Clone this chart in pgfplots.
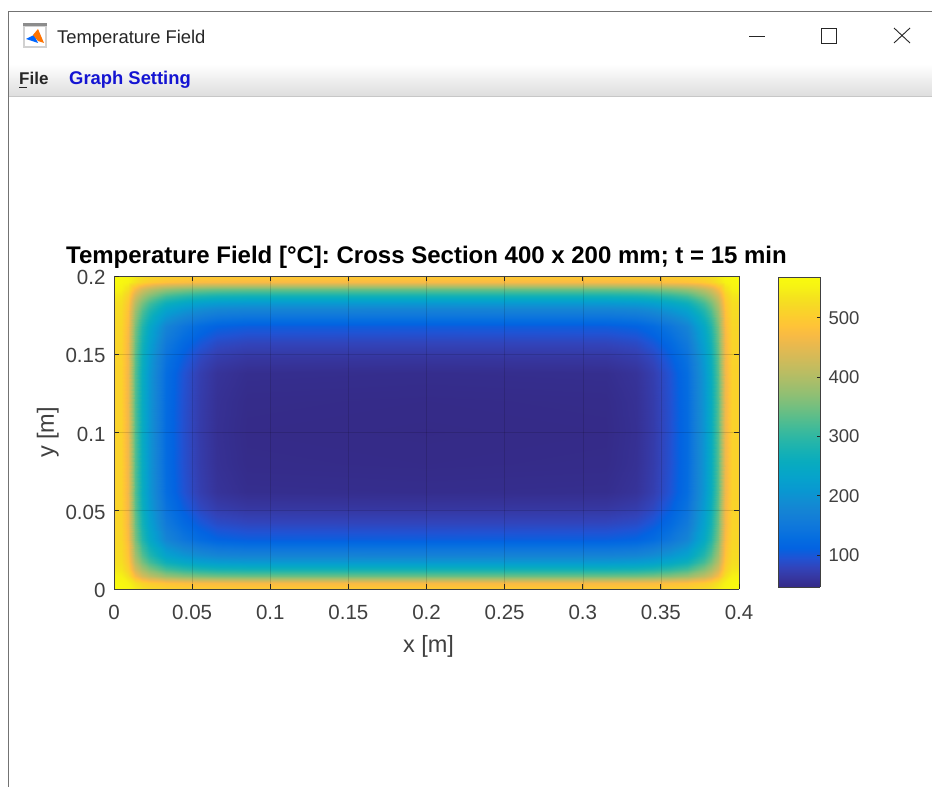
\documentclass[border=0pt]{standalone}
\usepackage{pgfplots}
\usepackage{pgfplotstable}
\pgfplotsset{compat=1.18}
\usepackage{fontspec}
\setmainfont{Liberation Sans}
\definecolor{axgray}{HTML}{404040}
\definecolor{menublue}{HTML}{1414D2}
\pgfplotsset{colormap={parula}{
rgb=(.2081,.1663,.5292) rgb=(.2123,.2138,.6270) rgb=(.1959,.2645,.7279) rgb=(.1253,.3242,.8303)
rgb=(.0117,.3875,.8820) rgb=(.0165,.4266,.8786) rgb=(.0498,.4586,.8641) rgb=(.0723,.4887,.8467)
rgb=(.0793,.5200,.8312) rgb=(.0641,.5570,.8240) rgb=(.0343,.5966,.8199) rgb=(.0239,.6287,.8038)
rgb=(.0228,.6535,.7768) rgb=(.0384,.6743,.7436) rgb=(.0843,.6928,.7062) rgb=(.1453,.7098,.6646)
rgb=(.2178,.7250,.6193) rgb=(.3022,.7376,.5712) rgb=(.3953,.7459,.5244) rgb=(.4871,.7491,.4840)
rgb=(.5709,.7485,.4494) rgb=(.6473,.7456,.4188) rgb=(.7184,.7411,.3905) rgb=(.7858,.7356,.3633)
rgb=(.8507,.7299,.3360) rgb=(.9139,.7258,.3063) rgb=(.9739,.7314,.2666) rgb=(.9990,.7653,.2164)
rgb=(.9880,.8066,.1794) rgb=(.9697,.8481,.1475) rgb=(.9589,.8949,.1132) rgb=(.9661,.9514,.0755)
rgb=(.9763,.9831,.0538)}}
\pgfplotstableread{
dx dy T
0 0 569
0.0045 0 566
0.009 0 560
0.0135 0 545
0.018 0 532
0.0225 0 522
0.033 0 510
0.044 0 506
0.055 0 503
0.066 0 501
0.085 0 500
0.2 0 500
0 0.004 566
0.0045 0.004 562
0.009 0.004 553
0.0135 0.004 532
0.018 0.004 512
0.0225 0.004 500
0.033 0.004 485
0.044 0.004 479
0.055 0.004 474
0.066 0.004 472
0.085 0.004 470
0.2 0.004 470
0 0.0085 555
0.0045 0.0085 552
0.009 0.0085 530
0.0135 0.0085 472
0.018 0.0085 435
0.0225 0.0085 413
0.033 0.0085 379
0.044 0.0085 365
0.055 0.0085 355
0.066 0.0085 349
0.085 0.0085 346
0.2 0.0085 345
0 0.013 540
0.0045 0.013 537
0.009 0.013 507
0.0135 0.013 432
0.018 0.013 390
0.0225 0.013 361
0.033 0.013 315
0.044 0.013 296
0.055 0.013 282
0.066 0.013 274
0.085 0.013 270
0.2 0.013 270
0 0.017 528
0.0045 0.017 528
0.009 0.017 494
0.0135 0.017 405
0.018 0.017 354
0.0225 0.017 319
0.033 0.017 264
0.044 0.017 242
0.055 0.017 225
0.066 0.017 216
0.085 0.017 211
0.2 0.017 210
0 0.0215 524
0.0045 0.0215 524
0.009 0.0215 486
0.0135 0.0215 387
0.018 0.0215 330
0.0225 0.0215 291
0.033 0.0215 230
0.044 0.0215 205
0.055 0.0215 187
0.066 0.0215 176
0.085 0.0215 171
0.2 0.0215 170
0 0.032 517
0.0045 0.032 517
0.009 0.032 473
0.0135 0.032 357
0.018 0.032 291
0.0225 0.032 246
0.033 0.032 175
0.044 0.032 146
0.055 0.032 125
0.066 0.032 112
0.085 0.032 106
0.2 0.032 105
0 0.042 514
0.0045 0.042 514
0.009 0.042 467
0.0135 0.042 346
0.018 0.042 276
0.0225 0.042 229
0.033 0.042 154
0.044 0.042 123
0.055 0.042 101
0.066 0.042 87
0.085 0.042 81
0.2 0.042 80
0 0.052 512
0.0045 0.052 512
0.009 0.052 464
0.0135 0.052 337
0.018 0.052 265
0.0225 0.052 216
0.033 0.052 139
0.044 0.052 107
0.055 0.052 83
0.066 0.052 70
0.085 0.052 63
0.2 0.052 62
0 0.062 510
0.0045 0.062 510
0.009 0.062 461
0.0135 0.062 332
0.018 0.062 258
0.0225 0.062 208
0.033 0.062 129
0.044 0.062 96
0.055 0.062 72
0.066 0.062 58
0.085 0.062 51
0.2 0.062 50
0 0.08 510
0.0045 0.08 510
0.009 0.08 460
0.0135 0.08 330
0.018 0.08 256
0.0225 0.08 206
0.033 0.08 126
0.044 0.08 93
0.055 0.08 69
0.066 0.08 55
0.085 0.08 48
0.2 0.08 47
0 0.1 510
0.0045 0.1 510
0.009 0.1 460
0.0135 0.1 330
0.018 0.1 255
0.0225 0.1 205
0.033 0.1 125
0.044 0.1 92
0.055 0.1 68
0.066 0.1 54
0.085 0.1 47
0.2 0.1 46
}\quadrant
\begin{document}
\begin{tikzpicture}[x=1pt,y=1pt]
\useasboundingbox (0,0) rectangle (932,787);
\fill[white] (0,0) rectangle (932,787);
\shade[top color=white,bottom color=black!13] (9,723) rectangle (932,691);
\draw[black!22,line width=.8pt] (9,691) -- (932,691);
\draw[black!55,line width=1pt] (8.5,0) -- (8.5,775) -- (932,775);
% icon
\fill[black!18] (23,739) rectangle (47,764);
\fill[black!45] (23,761) rectangle (47,764);
\fill[white] (25,741) rectangle (45,760);
\fill[blue!60!cyan] (26,748) -- (34,752) -- (38,744) -- cycle;
\fill[orange!90!red] (33,752) -- (38,758) -- (44,744) -- (38,746) -- cycle;
\node[anchor=base west,inner sep=0,font=\fontsize{18.4}{20}\selectfont,text=black!85] at (57,743) {Temperature Field};
\node[anchor=base west,inner sep=0,font=\fontsize{17}{18}\bfseries\selectfont,text=black!85] at (19,702) {File};
\draw[black!85,line width=.8pt] (19,699.5) -- (27,699.5);
\node[anchor=base west,inner sep=0,font=\fontsize{18.4}{20}\bfseries\selectfont,text=menublue] at (69,702) {Graph Setting};
\draw[black!85,line width=.9pt] (749,751) -- (765,751);
\draw[black!85,line width=.9pt] (821,744) rectangle (836,759);
\draw[black!85,line width=.9pt] (894,744) -- (910,759) (894,759) -- (910,744);
\begin{axis}[
  at={(114pt,198pt)}, anchor=south west,
  width=625pt, height=313pt, scale only axis,
  view={0}{90},
  xmin=0, xmax=0.4, ymin=0, ymax=0.2,
  xtick={0,0.05,...,0.4}, ytick={0,0.05,...,0.2},
  xticklabels={0,0.05,0.1,0.15,0.2,0.25,0.3,0.35,0.4},
  yticklabels={0,0.05,0.1,0.15,0.2},
  grid=major,
  grid style={black,opacity=.13,line width=.5pt},
  axis on top,
  axis line style={black!75,line width=.8pt},
  tick style={black!85,line width=.8pt},
  major tick length=5pt,
  tick align=inside,
  tick label style={font=\fontsize{20.5}{22}\selectfont,text=axgray},
  /pgf/number format/assume math mode=true,
  xticklabel style={yshift=-13pt},
  yticklabel style={xshift=-5pt,yshift=-1.5pt},
  xlabel={x [m]}, ylabel={y [m]},
  label style={font=\fontsize{23.5}{25}\selectfont,text=axgray},
  xlabel style={yshift=-9pt,xshift=2pt},
  ylabel style={yshift=0pt},
  title={Temperature Field [°C]: Cross Section 400 x 200 mm; t = 15 min},
  title style={font=\fontsize{24}{26}\bfseries\selectfont,text=black,yshift=-2pt},
  point meta min=46, point meta max=569,
  colormap name=parula,
]
\addplot3[surf,shader=interp,mesh/cols=12] table[x=dx,y=dy,z=T] {\quadrant};
\addplot3[surf,shader=interp,mesh/cols=12] table[x expr={0.4-\thisrow{dx}},y=dy,z=T] {\quadrant};
\addplot3[surf,shader=interp,mesh/cols=12] table[x=dx,y expr={0.2-\thisrow{dy}},z=T] {\quadrant};
\addplot3[surf,shader=interp,mesh/cols=12] table[x expr={0.4-\thisrow{dx}},y expr={0.2-\thisrow{dy}},z=T] {\quadrant};
\end{axis}
% colour bar
\begin{axis}[
  at={(778pt,200pt)}, anchor=south west,
  width=42pt, height=310pt, scale only axis,
  view={0}{90},
  xmin=0, xmax=1, ymin=46, ymax=569,
  xtick=\empty,
  ytick={100,200,300,400,500},
  yticklabel pos=right,
  axis on top,
  axis line style={black!75,line width=.8pt},
  tick style={black!85,line width=.8pt},
  major tick length=3pt,
  tick align=inside,
  ytick pos=right,
  tick label style={font=\fontsize{18.5}{20}\selectfont,text=axgray},
  yticklabel style={xshift=5pt},
  /pgf/number format/assume math mode=true,
  point meta min=46, point meta max=569,
  colormap name=parula,
]
\addplot3[surf,shader=interp,mesh/cols=2] coordinates {(0,46,46) (1,46,46) (0,569,569) (1,569,569)};
\end{axis}
\end{tikzpicture}
\end{document}
